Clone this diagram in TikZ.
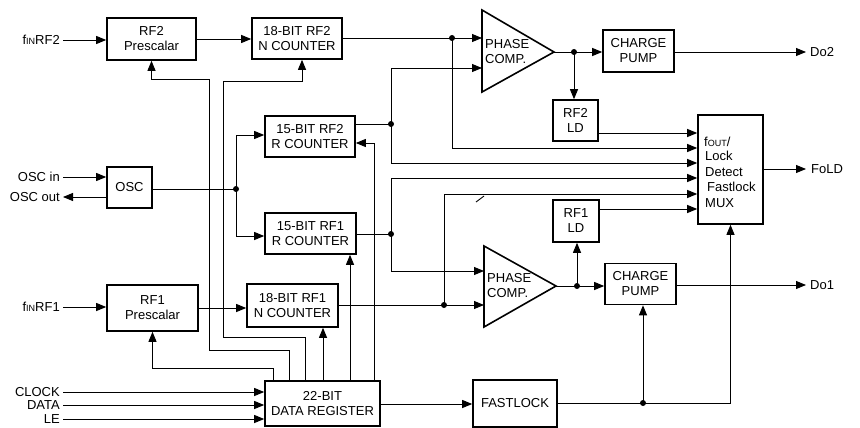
\documentclass[tikz,border=0pt]{standalone}
\usepackage{fontspec}
\setmainfont{Liberation Sans}
\usetikzlibrary{arrows.meta}
\begin{document}
\begin{tikzpicture}[x=1pt,y=-1pt,
  blk/.style={draw, line width=1.6pt, align=center, inner sep=0pt, font=\fontsize{13}{15}\selectfont},
  wire/.style={line width=0.9pt},
  arr/.style={wire, -{Triangle[length=10pt,width=8pt]}},
  lbl/.style={font=\fontsize{13}{15}\selectfont, inner sep=0pt},
  sml/.style={font=\fontsize{13}{15}\selectfont, inner sep=0pt, anchor=west}
]
\useasboundingbox (0,0) rectangle (860,428);
\newcommand{\smc}[1]{{\fontsize{9}{10}\selectfont #1}}
% blocks
\node[blk, minimum width=89, minimum height=42] (rf2p) at (151.5,39) {RF2\\Prescalar};
\node[blk, minimum width=90, minimum height=41] (rf2n) at (297,38.5) {18-BIT RF2\\N COUNTER};
\node[blk, minimum width=90, minimum height=41] (rf2r) at (310,136.5) {15-BIT RF2\\R COUNTER};
\node[blk, minimum width=91, minimum height=41] (rf1r) at (310.5,233.5) {15-BIT RF1\\R COUNTER};
\node[blk, minimum width=91, minimum height=43] (rf1n) at (292.5,305.5) {18-BIT RF1\\N COUNTER};
\node[blk, minimum width=91, minimum height=46] (rf1p) at (152.5,308) {RF1\\Prescalar};
\node[blk, minimum width=115, minimum height=45] (dreg) at (322.5,403.5) {22-BIT\\DATA REGISTER};
\node[blk, minimum width=45, minimum height=41] (osc) at (129.5,187.5) {OSC};
\node[blk, minimum width=84, minimum height=47] (fast) at (515,403.5) {FASTLOCK};
\node[blk, minimum width=71, minimum height=42] (cp2) at (638.5,51) {CHARGE\\PUMP};
\node[blk, minimum width=71, minimum height=41] (cp1) at (640.5,284) {CHARGE\\PUMP};
\node[blk, minimum width=45, minimum height=41] (ld2) at (575.5,120.5) {RF2\\LD};
\node[blk, minimum width=46, minimum height=42] (ld1) at (576,221) {RF1\\LD};
\node[blk, minimum width=65, minimum height=109] (mux) at (730.5,169.5) {};
\node[sml] (mx1) at (704,142) {f\smc{OUT}/};
\node[sml] (mx2) at (705,156) {Lock};
\node[sml] (mx3) at (705,172) {Detect};
\node[sml] (mx4) at (707,187) {Fastlock};
\node[sml] (mx5) at (705,203) {MUX};
% phase comparators
\draw[line width=1.6pt] (482,10) -- (554,52) -- (482,92) -- cycle;
\coordinate (pc2a) at (482,38);
\coordinate (pc2b) at (482,68);
\coordinate (pc2o) at (554,52);
\node[lbl, align=left, anchor=west] (pc2t) at (485,52) {PHASE\\COMP.};
\draw[line width=1.6pt] (484,246) -- (556,286) -- (484,327) -- cycle;
\coordinate (pc1a) at (484,271);
\coordinate (pc1b) at (484,305);
\coordinate (pc1o) at (556,286);
\node[lbl, align=left, anchor=west] (pc1t) at (487,286) {PHASE\\COMP.};
% labels
\node[lbl, anchor=east] (fin2) at (60,40) {f\smc{IN}RF2};
\node[lbl, anchor=east] (fin1) at (60,307) {f\smc{IN}RF1};
\node[lbl, anchor=east] (oscin) at (60,177) {OSC in};
\node[lbl, anchor=east] (oscout) at (60,197) {OSC out};
\node[lbl, anchor=east] (clk) at (60,392) {CLOCK};
\node[lbl, anchor=east] (dat) at (60,405) {DATA};
\node[lbl, anchor=east] (le) at (60,419) {LE};
\node[lbl, anchor=west] (do2) at (810,52) {Do2};
\node[lbl, anchor=west] (do1) at (810,285) {Do1};
\node[lbl, anchor=west] (fold) at (811,169) {FoLD};
% junctions
\coordinate (j1) at (452,38);
\coordinate (j2) at (391,124);
\coordinate (j3) at (391,234);
\coordinate (j4) at (444,305);
\coordinate (j5) at (574,52);
\coordinate (j6) at (577,286);
\coordinate (j7) at (236,189);
\coordinate (j8) at (643,403);
\coordinate (m1) at (mux.west |- 0,133);
\coordinate (m2) at (mux.west |- 0,148);
\coordinate (m3) at (mux.west |- 0,163);
\coordinate (m4) at (mux.west |- 0,178);
\coordinate (m5) at (mux.west |- 0,194);
\coordinate (m6) at (mux.west |- 0,209);
\foreach \j in {j1,j2,j3,j4,j5,j6,j7,j8} \fill (\j) circle (3);
% connectors
\draw[arr] ([xshift=3pt]fin2.east) -- (rf2p.west |- fin2.east);
\draw[arr] ([xshift=3pt]fin1.east) -- (rf1p.west |- fin1.east);
\draw[arr] ([xshift=3pt]oscin.east) -- (osc.west |- oscin.east);
\draw[arr] (osc.west |- oscout.east) -- ([xshift=3pt]oscout.east);
\draw[arr] ([xshift=3pt]clk.east) -- (dreg.west |- clk.east);
\draw[arr] ([xshift=3pt]dat.east) -- (dreg.west |- dat.east);
\draw[arr] ([xshift=3pt]le.east) -- (dreg.west |- le.east);
\draw[arr] (rf2p.east) -- (rf2n.west |- rf2p.east);
\draw[arr] (rf1p.east) -- (rf1n.west |- rf1p.east);
\draw[arr] (rf2n.east |- j1) -- (pc2a);
\draw[arr] (j1) |- (m2);
\draw[wire] (rf2r.east |- j2) -- (j2);
\draw[arr] (j2) |- (pc2b);
\draw[arr] (j2) |- (m3);
\draw[wire] (rf1r.east |- j3) -- (j3);
\draw[arr] (j3) |- (m4);
\draw[arr] (j3) |- (pc1a);
\draw[arr] (rf1n.east |- j4) -- (pc1b);
\draw[arr] (j4) |- (m5);
\draw[wire] (476,202) -- (484,196);
\draw[wire] (pc2o) -- (j5);
\draw[arr] (j5) -- (cp2.west |- j5);
\draw[arr] (j5) -- (ld2.north -| j5);
\draw[arr] (cp2.east |- do2.west) -- ([xshift=-4pt]do2.west);
\draw[arr] (ld2.east |- m1) -- (m1);
\draw[arr] (ld1.east |- m6) -- (m6);
\draw[wire] (pc1o) -- (j6);
\draw[arr] (j6) -- (cp1.west |- j6);
\draw[arr] (j6) -- (ld1.south -| j6);
\draw[arr] (cp1.east |- do1.west) -- ([xshift=-4pt]do1.west);
\draw[arr] (mux.east |- fold.west) -- ([xshift=-5pt]fold.west);
\draw[wire] (osc.east |- j7) -- (j7);
\draw[arr] (j7) |- (rf2r.west |- 0,135);
\draw[arr] (j7) |- (rf1r.west |- 0,236);
\draw[arr] (dreg.east |- 0,404) -- (fast.west |- 0,404);
\draw[wire] (fast.east |- j8) -- (j8);
\draw[arr] (j8) -- (cp1.south -| j8);
\draw[arr] (j8) -| (mux.south);
\draw[arr] (dreg.north -| 273,0) |- (rf1p.south |- 0,368) -- (rf1p.south);
\draw[arr] (dreg.north -| 289,0) |- (209,350) |- (rf2p.south |- 0,79) -- (rf2p.south);
\draw[arr] (dreg.north -| 305,0) |- (223,337) |- (302,81) -- (rf2n.south -| 302,0);
\draw[arr] (dreg.north -| 323,0) -- (rf1n.south -| 323,0);
\draw[arr] (dreg.north -| 350,0) -- (rf1r.south -| 350,0);
\draw[arr] (dreg.north -| 374,0) |- (rf2r.east |- 0,143);
\end{tikzpicture}
\end{document}
